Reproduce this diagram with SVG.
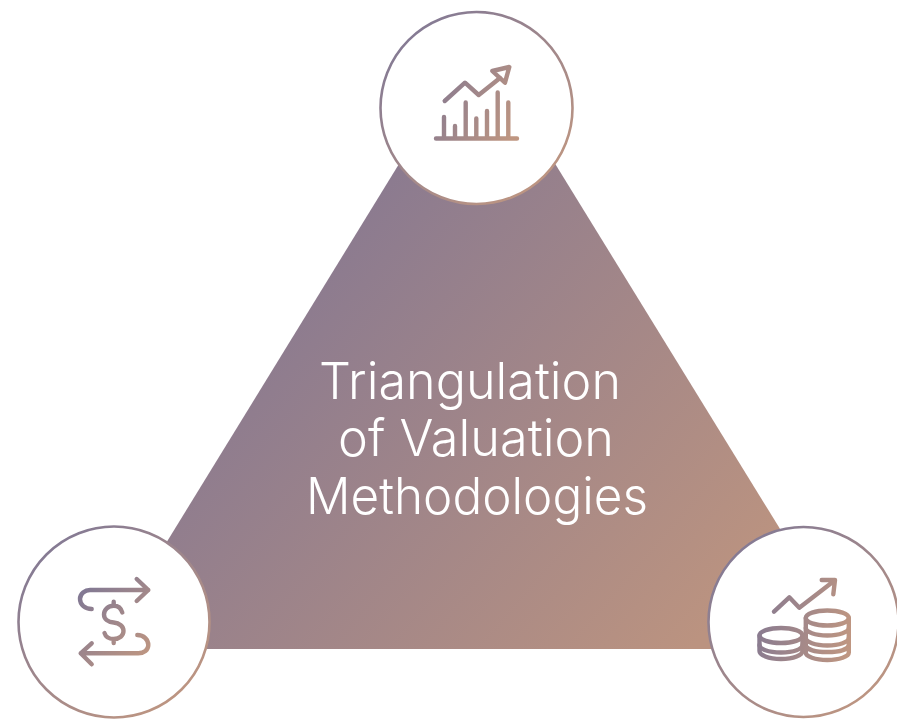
<svg xmlns="http://www.w3.org/2000/svg" xmlns:xlink="http://www.w3.org/1999/xlink" width="897" height="721" viewBox="0 0 897 721">
<defs>
<linearGradient id="tri" gradientUnits="userSpaceOnUse" x1="270" y1="290" x2="690" y2="650"><stop offset="0" stop-color="#8a7a90"/><stop offset="1" stop-color="#bb9380"/></linearGradient>
<linearGradient id="c1" gradientUnits="userSpaceOnUse" x1="410" y1="30" x2="545" y2="190"><stop offset="0" stop-color="#847a94"/><stop offset="1" stop-color="#bf9681"/></linearGradient>
<linearGradient id="c2" gradientUnits="userSpaceOnUse" x1="47" y1="544" x2="182" y2="704"><stop offset="0" stop-color="#847a94"/><stop offset="1" stop-color="#bf9681"/></linearGradient>
<linearGradient id="c3" gradientUnits="userSpaceOnUse" x1="737" y1="544" x2="872" y2="704"><stop offset="0" stop-color="#847a94"/><stop offset="1" stop-color="#bf9681"/></linearGradient>
<linearGradient id="i1" gradientUnits="userSpaceOnUse" x1="436" y1="85" x2="518" y2="125"><stop offset="0" stop-color="#897b90"/><stop offset="1" stop-color="#bf9681"/></linearGradient>
<linearGradient id="i2" gradientUnits="userSpaceOnUse" x1="78" y1="590" x2="150" y2="655"><stop offset="0" stop-color="#7f7794"/><stop offset="1" stop-color="#bf9681"/></linearGradient>
<linearGradient id="i3" gradientUnits="userSpaceOnUse" x1="758" y1="625" x2="850" y2="640"><stop offset="0" stop-color="#897b90"/><stop offset="1" stop-color="#bf9681"/></linearGradient>
</defs>
<style>
.ring{fill:#fff;stroke-width:2.6}
.ic{fill:none;stroke-width:4.4;stroke-linecap:round;stroke-linejoin:round}
.t{font-family:"Inter","Liberation Sans",sans-serif;font-weight:350;font-size:51px;fill:#fff}
</style>
<g id="triangle">
<polygon points="477,37 101,649 854,649" fill="url(#tri)"/>
<text class="t" x="319" y="399" textLength="302" lengthAdjust="spacingAndGlyphs">Triangulation</text>
<text class="t" x="338" y="456" textLength="276" lengthAdjust="spacingAndGlyphs">of Valuation</text>
<text class="t" x="306" y="514" textLength="342" lengthAdjust="spacingAndGlyphs">Methodologies</text>
</g>
<g id="connectors"/>
<g id="node-top">
<circle class="ring" cx="476.5" cy="108" r="96" stroke="url(#c1)"/>
<g class="ic" stroke="url(#i1)">
<path d="M436 138.5H517M444 138.5V117M455 138.5V126M465.7 138.5V102.5M476.3 138.5V118.5M487 138.5V111M497.700 138.5V92.5M508.300 138.5V102.5"/>
<path d="M444.700 101L465 82.700L478.700 95L500 78"/>
<path d="M509.300 67L492.300 71L505 82.700Z"/>
</g>
</g>
<g id="node-left">
<circle class="ring" cx="114" cy="622" r="95.500" stroke="url(#c2)"/>
<g class="ic" stroke="url(#i2)">
<path d="M91.700 609C85 609 80 604.500 80 599C80 593.500 85 590 90 590H148.300M136.700 579L148.300 590L136.700 601"/>
<path d="M137.300 635C144 635 148.300 640 148.300 645C148.300 650 144 653.300 138.300 653.300H80.700M91.700 643.300L80.700 653.300L91.700 664.300"/>
<path d="M122.300 612.500C121 608 117.500 605.700 113.700 605.700C108 605.700 104 610 104 614.500C104 619 108 622 113.700 622.500C119.500 623 123.500 626.500 123.500 631C123.500 635.500 119.500 639 113.700 639C109 639 105.500 636.500 104.500 633M113.700 601.700V605.700M113.700 639V643"/>
</g>
</g>
<g id="node-right">
<circle class="ring" cx="803.500" cy="622" r="95" stroke="url(#c3)"/>
<g class="ic" stroke="url(#i3)">
<path d="M774 611.700L789.300 597.300L799.300 607.700L833 581.700M821.700 580H835L833.300 594.300"/>
<ellipse cx="827.300" cy="618" rx="21.500" ry="7.500"/>
<path d="M805.800 618V652.500C805.800 656.500 815 660 827.300 660C839.500 660 848.800 656.500 848.800 652.500V618"/>
<path d="M805.800 628C805.800 632 815 635.500 827.300 635.500C839.500 635.500 848.800 632 848.800 628M805.800 638C805.800 642 815 645.500 827.300 645.500C839.500 645.500 848.800 642 848.800 638M805.800 645.500C807 649.500 815 652 827.300 652C839.500 652 847.500 649.500 848.800 645.500"/>
<ellipse cx="781" cy="635.500" rx="21.500" ry="7.500"/>
<path d="M759.500 635.500V651C759.500 655 768 659 781 659C794 659 802.500 655 802.500 651V635.500"/>
<path d="M759.500 645C759.500 649 768 652.500 781 652.500C794 652.500 802.500 649 802.500 645"/>
</g>
</g>
</svg>
